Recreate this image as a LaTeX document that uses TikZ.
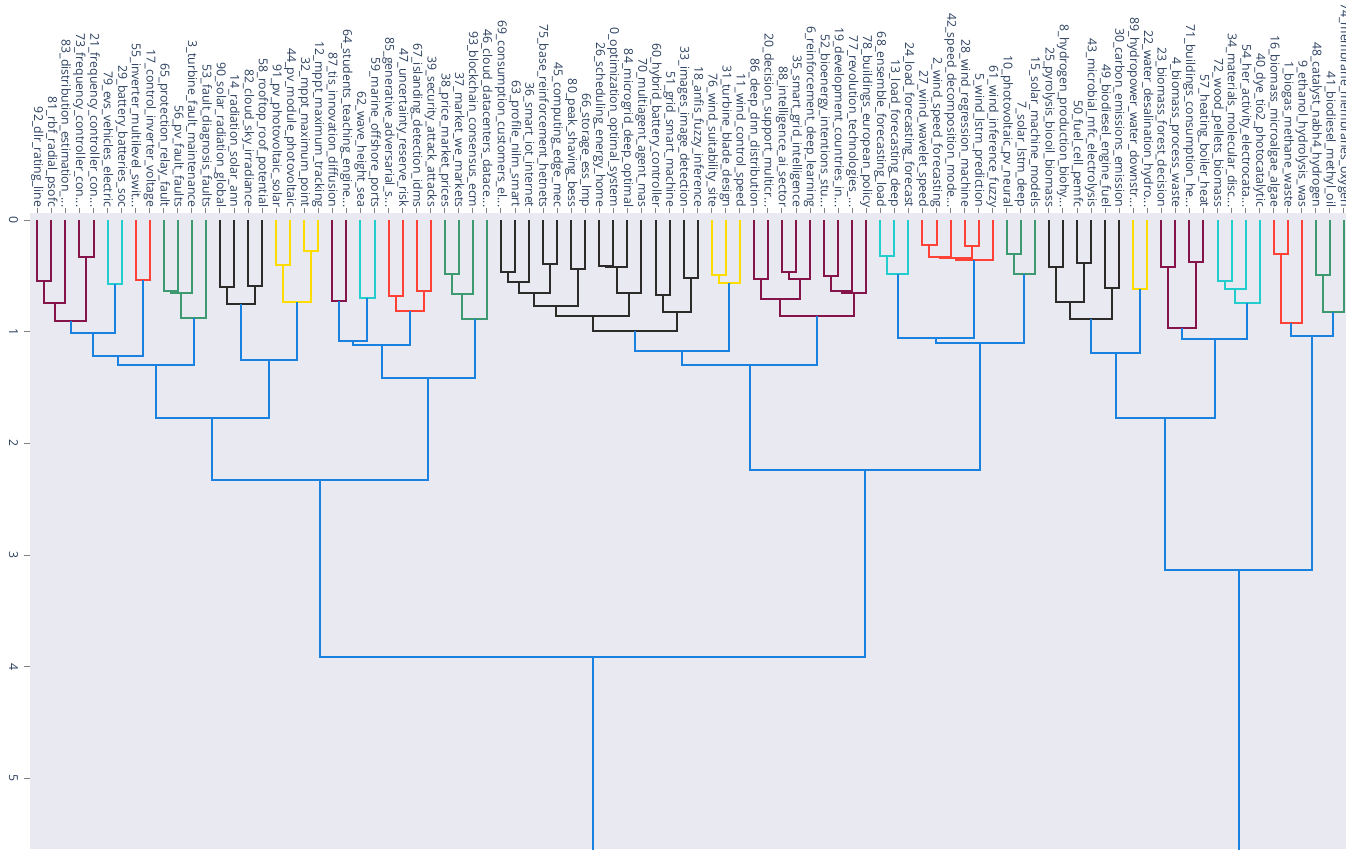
\documentclass[tikz,border=0pt]{standalone}
\usepackage{fontspec}
\setmainfont{Open Sans}
\usetikzlibrary{calc}

\definecolor{axistext}{RGB}{42,63,95}
\definecolor{plotbg}{RGB}{233,234,241}
\definecolor{cmaroon}{RGB}{133,20,75}
\definecolor{ccyan}{RGB}{35,205,205}
\definecolor{cred}{RGB}{255,65,54}
\definecolor{cgreen}{RGB}{61,153,112}
\definecolor{cblack}{RGB}{45,42,42}
\definecolor{cyellow}{RGB}{255,220,0}
\definecolor{cblue}{RGB}{25,130,225}

% truncation mark of long labels
\newcommand\tdots{...}

\tikzset{
  link/.style={line width=2pt},
  mlink/.style={link, draw=cmaroon},
  clink/.style={link, draw=ccyan},
  rlink/.style={link, draw=cred},
  glink/.style={link, draw=cgreen},
  klink/.style={link, draw=cblack},
  ylink/.style={link, draw=cyellow},
  blink/.style={link, draw=cblue},
  leaflabel/.style={rotate=-90, anchor=east, inner sep=0pt, text=axistext,
    font=\fontsize{12.3}{14}\selectfont},
  ticklabel/.style={rotate=-90, inner sep=0pt, text=axistext, font=\fontsize{12.3}{14}\selectfont},
  tickmark/.style={draw=black!50, line width=1pt},
}

% merge node: name, left child, right child, height, link style
\newcommand\dmerge[5]{%
  \path let \p1=($(#2)!0.5!(#3)$), \p2=(0,{220+111.7*#4}) in coordinate (#1) at (\x1,\y2);
  \draw[#5] (#2) |- (#1) -| (#3);
}

\begin{document}
\begin{tikzpicture}[x=1pt,y=-1pt]
\clip (0,0) rectangle (1346,849);
\fill[white] (0,0) rectangle (1346,849);
\fill[plotbg] (30,213) rectangle (1346,849);

% height axis
\foreach \v in {0,1,2,3,4,5}{
  \coordinate (ya\v) at (30,{220+111.7*\v});
  \draw[tickmark] (ya\v) -- ++(-6,0);
  \node[ticklabel] (yl\v) at (13.5,{220+111.7*\v}) {\v};
}

% leaves with their labels
\foreach \lab [count=\k] in {
92\_dlr\_rating\_line, 81\_rbf\_radial\_psofc, 83\_distribution\_estimation\_\tdots,
73\_frequency\_controller\_con\tdots, 21\_frequency\_controller\_con\tdots, 79\_evs\_vehicles\_electric,
29\_battery\_batteries\_soc, 55\_inverter\_multilevel\_swit\tdots, 17\_control\_inverter\_voltage,
65\_protection\_relay\_fault, 56\_pv\_fault\_faults, 3\_turbine\_fault\_maintenance,
53\_fault\_diagnosis\_faults, 90\_solar\_radiation\_global, 14\_radiation\_solar\_ann,
82\_cloud\_sky\_irradiance, 58\_rooftop\_roof\_potential, 91\_pv\_photovoltaic\_solar,
44\_pv\_module\_photovoltaic, 32\_mppt\_maximum\_point, 12\_mppt\_maximum\_tracking,
87\_tis\_innovation\_diffusion, 64\_students\_teaching\_engine\tdots, 62\_wave\_height\_sea,
59\_marine\_offshore\_ports, 85\_generative\_adversarial\_s\tdots, 47\_uncertainty\_reserve\_risk,
67\_islanding\_detection\_idms, 39\_security\_attack\_attacks, 38\_price\_market\_prices,
37\_market\_we\_markets, 93\_blockchain\_consensus\_ecm, 46\_cloud\_datacenters\_datace\tdots,
69\_consumption\_customers\_el\tdots, 63\_profile\_nilm\_smart, 36\_smart\_iot\_internet,
75\_base\_reinforcement\_hetnets, 45\_computing\_edge\_mec, 80\_peak\_shaving\_bess,
66\_storage\_ess\_lmp, 26\_scheduling\_energy\_home, 0\_optimization\_optimal\_system,
84\_microgrid\_deep\_optimal, 70\_multiagent\_agent\_mas, 60\_hybrid\_battery\_controller,
51\_grid\_smart\_machine, 33\_images\_image\_detection, 18\_anfis\_fuzzy\_inference,
76\_wind\_suitability\_site, 31\_turbine\_blade\_design, 11\_wind\_control\_speed,
86\_deep\_dnn\_distribution, 20\_decision\_support\_multicr\tdots, 88\_intelligence\_ai\_sector,
35\_smart\_grid\_intelligence, 6\_reinforcement\_deep\_learning, 52\_bioenergy\_intentions\_stu\tdots,
19\_development\_countries\_in\tdots, 77\_revolution\_technologies\_\tdots, 78\_buildings\_european\_policy,
68\_ensemble\_forecasting\_load, 13\_load\_forecasting\_deep, 24\_load\_forecasting\_forecast,
27\_wind\_wavelet\_speed, 2\_wind\_speed\_forecasting, 42\_speed\_decomposition\_mode\tdots,
28\_wind\_regression\_machine, 5\_wind\_lstm\_prediction, 61\_wind\_inference\_fuzzy,
10\_photovoltaic\_pv\_neural, 7\_solar\_lstm\_deep, 15\_solar\_machine\_models,
25\_pyrolysis\_biooil\_biomass, 8\_hydrogen\_production\_biohy\tdots, 50\_fuel\_cell\_pemfc,
43\_microbial\_mfc\_electrolysis, 49\_biodiesel\_engine\_fuel, 30\_carbon\_emissions\_emission,
89\_hydropower\_water\_downstr\tdots, 22\_water\_desalination\_hydro\tdots, 23\_biomass\_forest\_decision,
4\_biomass\_process\_waste, 71\_buildings\_consumption\_he\tdots, 57\_heating\_boiler\_heat,
72\_wood\_pellets\_biomass, 34\_materials\_molecular\_disc\tdots, 54\_her\_activity\_electrocata\tdots,
40\_dye\_tio2\_photocatalytic, 16\_biomass\_microalgae\_algae, 1\_biogas\_methane\_waste,
9\_ethanol\_hydrolysis\_was, 48\_catalyst\_nabh4\_hydrogen, 41\_biodiesel\_methyl\_oil,
74\_membrane\_membranes\_oxygen}{
  \coordinate (l\k) at ({37.3+(\k-1)*14.05},220);
  \draw[tickmark] (l\k) ++(0,-7) -- ++(0,-5);
  \node[leaflabel] (t\k) at ({37.3+(\k-1)*14.05},207.5) {\lab};
}

% first main branch: grid, inverters, solar, markets
\dmerge{m1}{l1}{l2}{0.546}{mlink}
\dmerge{m2}{l4}{l5}{0.328}{mlink}
\dmerge{m3}{m1}{l3}{0.746}{mlink}
\dmerge{m4}{m3}{m2}{0.90}{mlink}
\dmerge{m5}{l6}{l7}{0.576}{clink}
\dmerge{m6}{m4}{m5}{1.009}{blink}
\dmerge{m7}{l8}{l9}{0.54}{rlink}
\dmerge{m8}{m6}{m7}{1.215}{blink}
\dmerge{m9}{l10}{l11}{0.636}{glink}
\dmerge{m10}{m9}{l12}{0.654}{glink}
\dmerge{m11}{m10}{l13}{0.88}{glink}
\dmerge{m12}{m8}{m11}{1.298}{blink}
\dmerge{m13}{l14}{l15}{0.597}{klink}
\dmerge{m14}{l16}{l17}{0.59}{klink}
\dmerge{m15}{m13}{m14}{0.755}{klink}
\dmerge{m16}{l18}{l19}{0.403}{ylink}
\dmerge{m17}{l20}{l21}{0.278}{ylink}
\dmerge{m18}{m16}{m17}{0.731}{ylink}
\dmerge{m19}{m15}{m18}{1.253}{blink}
\dmerge{m20}{m12}{m19}{1.77}{blink}
\dmerge{m21}{l22}{l23}{0.725}{mlink}
\dmerge{m22}{l24}{l25}{0.695}{clink}
\dmerge{m23}{m21}{m22}{1.08}{blink}
\dmerge{m24}{l26}{l27}{0.677}{rlink}
\dmerge{m25}{l28}{l29}{0.633}{rlink}
\dmerge{m26}{m24}{m25}{0.812}{rlink}
\dmerge{m27}{m23}{m26}{1.12}{blink}
\dmerge{m28}{l30}{l31}{0.486}{glink}
\dmerge{m29}{m28}{l32}{0.665}{glink}
\dmerge{m30}{m29}{l33}{0.886}{glink}
\dmerge{m31}{m27}{m30}{1.41}{blink}
\dmerge{m32}{m20}{m31}{2.33}{blink}

% smart systems, wind and forecasting
\dmerge{m33}{l34}{l35}{0.463}{klink}
\dmerge{m34}{m33}{l36}{0.552}{klink}
\dmerge{m35}{l37}{l38}{0.394}{klink}
\dmerge{m36}{m34}{m35}{0.657}{klink}
\dmerge{m37}{l39}{l40}{0.439}{klink}
\dmerge{m38}{m36}{m37}{0.767}{klink}
\dmerge{m39}{l41}{l42}{0.409}{klink}
\dmerge{m40}{m39}{l43}{0.418}{klink}
\dmerge{m41}{m40}{l44}{0.657}{klink}
\dmerge{m42}{m38}{m41}{0.857}{klink}
\dmerge{m43}{l45}{l46}{0.671}{klink}
\dmerge{m44}{l47}{l48}{0.522}{klink}
\dmerge{m45}{m43}{m44}{0.82}{klink}
\dmerge{m46}{m42}{m45}{0.99}{klink}
\dmerge{m47}{l49}{l50}{0.492}{ylink}
\dmerge{m48}{m47}{l51}{0.567}{ylink}
\dmerge{m49}{m46}{m48}{1.173}{blink}
\dmerge{m50}{l52}{l53}{0.528}{mlink}
\dmerge{m51}{l54}{l55}{0.462}{mlink}
\dmerge{m52}{m51}{l56}{0.528}{mlink}
\dmerge{m53}{m50}{m52}{0.707}{mlink}
\dmerge{m54}{l57}{l58}{0.501}{mlink}
\dmerge{m55}{m54}{l59}{0.636}{mlink}
\dmerge{m56}{m55}{l60}{0.65}{mlink}
\dmerge{m57}{m53}{m56}{0.859}{mlink}
\dmerge{m58}{m49}{m57}{1.298}{blink}
\dmerge{m59}{l61}{l62}{0.322}{clink}
\dmerge{m60}{m59}{l63}{0.483}{clink}
\dmerge{m61}{l64}{l65}{0.224}{rlink}
\dmerge{m62}{m61}{l66}{0.328}{rlink}
\dmerge{m63}{l67}{l68}{0.23}{rlink}
\dmerge{m64}{m62}{m63}{0.343}{rlink}
\dmerge{m65}{m64}{l69}{0.358}{rlink}
\dmerge{m66}{m60}{m65}{1.053}{blink}
\dmerge{m67}{l70}{l71}{0.307}{glink}
\dmerge{m68}{m67}{l72}{0.486}{glink}
\dmerge{m69}{m66}{m68}{1.10}{blink}
\dmerge{m70}{m58}{m69}{2.24}{blink}
\dmerge{m71}{m32}{m70}{3.91}{blink}

% biomass, hydrogen and materials
\dmerge{m72}{l73}{l74}{0.424}{klink}
\dmerge{m73}{l75}{l76}{0.382}{klink}
\dmerge{m74}{m72}{m73}{0.737}{klink}
\dmerge{m75}{l77}{l78}{0.612}{klink}
\dmerge{m76}{m74}{m75}{0.886}{klink}
\dmerge{m77}{l79}{l80}{0.621}{ylink}
\dmerge{m78}{m76}{m77}{1.194}{blink}
\dmerge{m79}{l81}{l82}{0.418}{mlink}
\dmerge{m80}{l83}{l84}{0.373}{mlink}
\dmerge{m81}{m79}{m80}{0.964}{mlink}
\dmerge{m82}{l85}{l86}{0.546}{clink}
\dmerge{m83}{m82}{l87}{0.621}{clink}
\dmerge{m84}{m83}{l88}{0.740}{clink}
\dmerge{m85}{m81}{m84}{1.068}{blink}
\dmerge{m86}{m78}{m85}{1.77}{blink}
\dmerge{m87}{l89}{l90}{0.307}{rlink}
\dmerge{m88}{m87}{l91}{0.919}{rlink}
\dmerge{m89}{l92}{l93}{0.492}{glink}
\dmerge{m90}{m89}{l94}{0.827}{glink}
\dmerge{m91}{m88}{m90}{1.036}{blink}
\dmerge{m92}{m86}{m91}{3.13}{blink}

% root join lies below the visible range
\dmerge{m93}{m71}{m92}{5.9}{blink}
\end{tikzpicture}
\end{document}
